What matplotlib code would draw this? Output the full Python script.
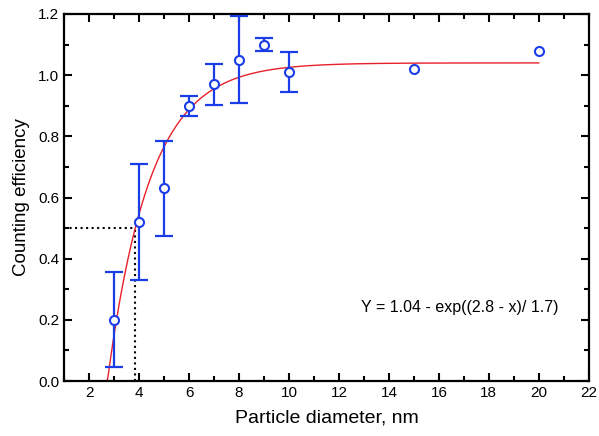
import numpy as np
import matplotlib
matplotlib.use('Agg')
import matplotlib.pyplot as plt
from matplotlib.ticker import MultipleLocator

plt.rcParams['font.family'] = ['Liberation Sans', 'DejaVu Sans']

# measured points
diam = [3, 4, 5, 6, 7, 8, 9, 10, 15, 20]
eff = [0.20, 0.52, 0.63, 0.90, 0.97, 1.05, 1.10, 1.01, 1.02, 1.08]
err = [0.155, 0.19, 0.155, 0.033, 0.067, 0.142, 0.02, 0.065, 0, 0]

# fit parameters: Y = a - exp((b - x)/c)
a, b, c = 1.04, 2.8, 1.7
half_y = 0.5

fig = plt.figure(figsize=(5.99, 4.36), dpi=100)
ax = fig.add_axes([0.107, 0.126, 0.876, 0.842])

xf = np.linspace(1, 20, 500)
yf = np.maximum(0, a - np.exp((b - xf) / c))
ax.plot(xf, yf, color='#e8202a', lw=1.0, zorder=2)

# dotted guide at 50% efficiency
x_half = b - c * np.log(a - half_y)
ax.plot([1, x_half], [half_y, half_y], color='black', ls=':', lw=1.5, zorder=1)
ax.plot([x_half, x_half], [0, half_y], color='black', ls=':', lw=1.5, zorder=1)

blue = '#1a3de8'
with_err = [i for i in range(len(diam)) if err[i] > 0]
ax.errorbar([diam[i] for i in with_err], [eff[i] for i in with_err],
            yerr=[err[i] for i in with_err], fmt='none', ecolor=blue,
            elinewidth=1.6, capsize=6.5, capthick=1.6, zorder=3)
ax.plot(diam, eff, 'o', mfc='white', mec=blue, mew=1.5, ms=6.5, zorder=4)

ax.text(16.85, 0.242, 'Y = 1.04 - exp((2.8 - x)/ 1.7)', ha='center', va='center',
        fontsize=11.5)

ax.set_xlim(1, 22)
ax.set_ylim(0, 1.2)
ax.xaxis.set_major_locator(MultipleLocator(2))
ax.xaxis.set_minor_locator(MultipleLocator(1))
ax.yaxis.set_major_locator(MultipleLocator(0.2))
ax.yaxis.set_minor_locator(MultipleLocator(0.1))
ax.yaxis.set_major_formatter(matplotlib.ticker.FormatStrFormatter('%.1f'))
ax.set_xticks(np.arange(2, 23, 2))

ax.tick_params(which='both', direction='in', top=True, right=True, width=1.5,
               labelsize=11)
ax.tick_params(which='major', length=6)
ax.tick_params(which='minor', length=3.5)
for s in ax.spines.values():
    s.set_linewidth(1.6)

ax.set_xlabel('Particle diameter, nm', fontsize=14, labelpad=7)
ax.set_ylabel('Counting efficiency', fontsize=13.5, labelpad=6)

fig.savefig('out.png', dpi=100)
